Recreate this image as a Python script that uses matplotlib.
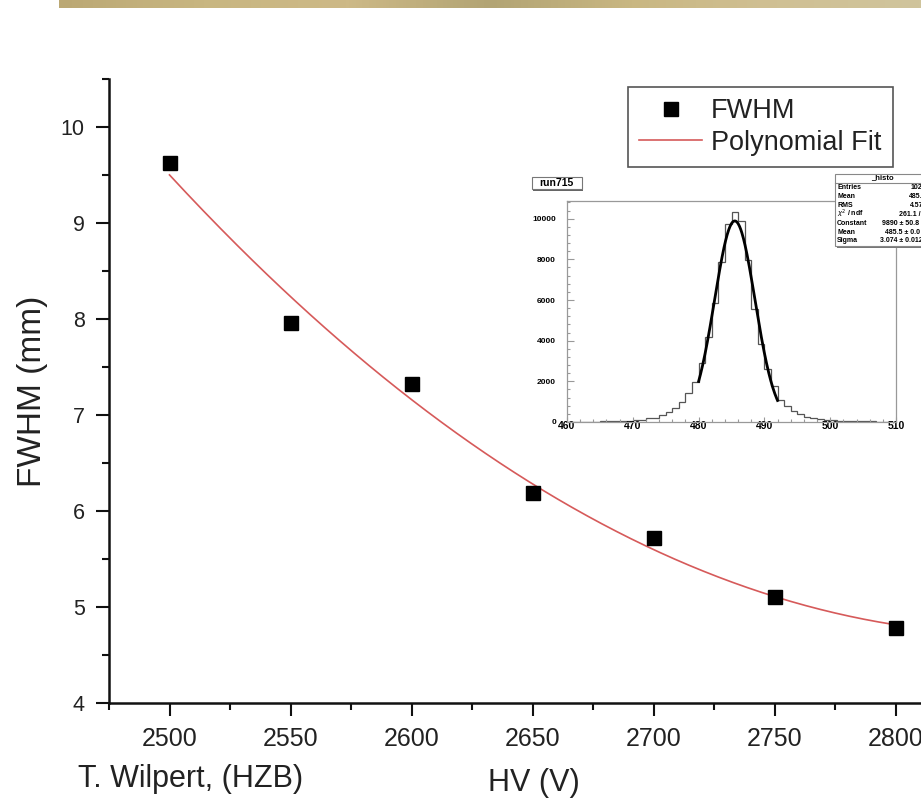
import numpy as np
import matplotlib
matplotlib.use("Agg")
import matplotlib.pyplot as plt
from matplotlib.ticker import MultipleLocator
from matplotlib.patches import Rectangle
from matplotlib.lines import Line2D
from matplotlib.colors import LinearSegmentedColormap

plt.rcParams['font.family'] = ['Liberation Sans', 'DejaVu Sans']

# FWHM of the beam profile versus detector high voltage
hv = [2500, 2550, 2600, 2650, 2700, 2750, 2800]
fwhm = [9.63, 7.96, 7.32, 6.19, 5.72, 5.10, 4.78]

# run715 position histogram, 1-unit bins from 460 to 510
hist_lo, hist_hi = 460, 510
hist_counts = [10, 10, 15, 15, 20, 25, 30, 40, 50, 60,
               80, 120, 200, 210, 330, 470, 700, 960, 1430, 1960,
               2900, 4200, 5830, 7880, 9760, 10320, 9900, 7950, 5550, 3850,
               2620, 1780, 1100, 780, 560, 400, 270, 210, 160, 115,
               85, 70, 55, 45, 35, 30, 25, 20, 15, 10]

# Gaussian fit results shown in the stats box
gaus_const, gaus_mean, gaus_sigma = 9890.0, 485.5, 3.074
fit_lo, fit_hi = 480, 492
stats_names = ["Entries", "Mean", "RMS", r"$\chi^{2}$ / ndf", "Constant", "Mean", "Sigma"]
stats_values = ["102400", "485.5", "4.579", "261.1 / 9", "9890 \u00b1 50.8",
                "485.5 \u00b1 0.0", "3.074 \u00b1 0.012"]

W, H = 921, 801
fig = plt.figure(figsize=(W / 100, H / 100), dpi=100)
fig.patch.set_facecolor('white')


def fx(x):
    return x / W


def fy(y):
    return 1 - y / H


# slide header band
band = fig.add_axes([fx(59), fy(8), fx(921 - 59), 8 / H])
band_cmap = LinearSegmentedColormap.from_list(
    "band", ["#bba874", "#c8b681", "#cdb987", "#b2a474", "#c9b782", "#d0c094", "#cfc49c"])
band.imshow(np.linspace(0, 1, 256)[None, :], cmap=band_cmap, aspect='auto')
band.axis('off')

# main panel
ax = fig.add_axes([fx(109), fy(703), fx(921 - 109), (703 - 79) / H])
ax.set_xlim(2475, 2475 + (921 - 109) / 2.42)
ax.set_ylim(4, 10.5)

ax.plot(hv, fwhm, 's', color='black', ms=10, label='FWHM', zorder=4, clip_on=False)
coef = np.polyfit(hv, fwhm, 2)
xs = np.linspace(hv[0], hv[-1], 300)
ax.plot(xs, np.polyval(coef, xs), color='#d65a5a', lw=1.2, label='Polynomial Fit', zorder=3)

for s in ('top', 'right'):
    ax.spines[s].set_visible(False)
for s in ('left', 'bottom'):
    ax.spines[s].set_linewidth(1.8)
    ax.spines[s].set_color('#111111')

ax.xaxis.set_major_locator(MultipleLocator(50))
ax.xaxis.set_minor_locator(MultipleLocator(25))
ax.yaxis.set_major_locator(MultipleLocator(1))
ax.yaxis.set_minor_locator(MultipleLocator(0.5))
ax.tick_params(which='major', direction='out', length=9.4, width=1.5, color='#111111')
ax.tick_params(which='minor', direction='out', length=5, width=1.5, color='#111111')
ax.tick_params(axis='x', which='major', labelsize=18, pad=8, labelcolor='#222222')
ax.tick_params(axis='y', which='major', labelsize=15.5, pad=8, labelcolor='#222222')

ax.set_ylabel('FWHM (mm)', fontsize=24, color='#222222')
ax.yaxis.set_label_coords((33 - 109) / (921 - 109), 0.5)
ax.yaxis.label.set_va('center')

fig.text(fx(534), fy(783), 'HV (V)', fontsize=22, ha='center', va='center', color='#222222')
fig.text(fx(78), fy(779), 'T. Wilpert, (HZB)', fontsize=22, ha='left', va='center', color='#222222')

leg = ax.legend(loc='upper left', bbox_to_anchor=(fx(628), fy(87)), bbox_transform=fig.transFigure,
                fontsize=19.5, frameon=True, fancybox=False, edgecolor='#555555', framealpha=1,
                borderpad=0.42, handlelength=2.3, handletextpad=0.35, labelspacing=0.2,
                borderaxespad=0, numpoints=1)
leg.get_frame().set_linewidth(1.2)
for t in leg.get_texts():
    t.set_color('#222222')

# inset: run715 histogram with Gaussian fit
axi = fig.add_axes([fx(567), fy(422), fx(896 - 567), (422 - 201) / H])
axi.set_facecolor('white')
edges = np.arange(hist_lo, hist_hi + 1)
axi.stairs(hist_counts, edges, color='#555555', lw=0.9)
gx = np.linspace(fit_lo, fit_hi, 200)
axi.plot(gx, gaus_const * np.exp(-0.5 * ((gx - gaus_mean) / gaus_sigma) ** 2), color='black', lw=2)
axi.set_xlim(hist_lo, hist_hi)
axi.set_ylim(0, 10870)
for s in axi.spines.values():
    s.set_color('#999999')
    s.set_linewidth(0.9)
axi.xaxis.set_major_locator(MultipleLocator(10))
axi.xaxis.set_minor_locator(MultipleLocator(2))
axi.yaxis.set_major_locator(MultipleLocator(2000))
axi.yaxis.set_minor_locator(MultipleLocator(400))
axi.tick_params(which='both', direction='in', color='#999999', width=0.8, top=False, right=False)
axi.tick_params(axis='y', which='major', length=5)
axi.tick_params(axis='y', which='minor', length=2.5)
axi.tick_params(axis='x', which='major', length=3.6)
axi.tick_params(axis='x', which='minor', length=2)
axi.tick_params(axis='y', labelsize=6, pad=8)
axi.tick_params(axis='x', labelsize=7.5, pad=-1)
for lab in axi.get_xticklabels() + axi.get_yticklabels():
    lab.set_fontweight('bold')

# title box
fig.patches.append(Rectangle((fx(533), fy(190.5)), fx(50), 12 / H, transform=fig.transFigure,
                             facecolor='#666666', edgecolor='none', zorder=5))
fig.patches.append(Rectangle((fx(531.7), fy(189.3)), fx(50), 12 / H, transform=fig.transFigure,
                             facecolor='white', edgecolor='#777777', lw=0.8, zorder=6))
fig.text(fx(556.7), fy(183.3), 'run715', fontsize=7.5, fontweight='bold', ha='center', va='center',
         zorder=7)

# stats box
fig.patches.append(Rectangle((fx(836.5), fy(247.5)), fx(110), (247.5 - 175) / H, transform=fig.transFigure,
                             facecolor='#777777', edgecolor='none', zorder=5))
fig.patches.append(Rectangle((fx(835), fy(246)), fx(110), (246 - 174) / H, transform=fig.transFigure,
                             facecolor='white', edgecolor='#888888', lw=0.8, zorder=6))
fig.lines.append(Line2D([fx(835), 1.0], [fy(182.7), fy(182.7)], transform=fig.transFigure,
                        color='#888888', lw=0.8, zorder=7))
fig.text(fx(882), fy(178), '_histo', fontsize=5.5, fontweight='bold', ha='center', va='center', zorder=7)
value_x = [911, 909, 910, 899, 882, 885, 880]
for i, (name, val) in enumerate(zip(stats_names, stats_values)):
    yy = 187.5 + i * 8.9
    fig.text(fx(837), fy(yy), name, fontsize=5, fontweight='bold', ha='left', va='center', zorder=7)
    fig.text(fx(value_x[i]), fy(yy), val, fontsize=5, fontweight='bold', ha='left', va='center', zorder=7)

fig.savefig('out.png', dpi=100, facecolor='white')
